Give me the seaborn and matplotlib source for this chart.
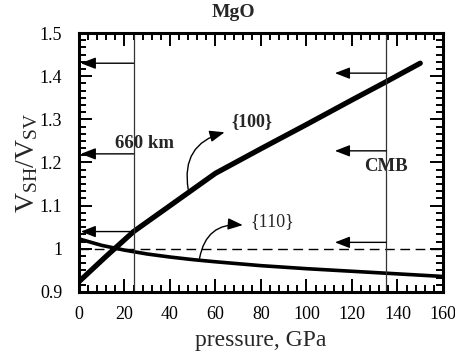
import matplotlib
matplotlib.use("Agg")
import matplotlib.pyplot as plt
import seaborn as sns
from matplotlib.ticker import MultipleLocator, AutoMinorLocator, FormatStrFormatter

p100 = [0, 12, 24, 60, 80, 100, 120, 135, 150]
v100 = [0.924, 0.983, 1.040, 1.175, 1.232, 1.288, 1.345, 1.387, 1.43]
p110 = [0, 10, 20, 30, 40, 50, 60, 80, 100, 120, 140, 160]
v110 = [1.023, 1.008, 0.997, 0.988, 0.981, 0.975, 0.970, 0.961, 0.954, 0.948, 0.942, 0.936]

# depth markers and the arrows pointing off them
p660, pcmb = 24, 135
left_arrow_y = [1.43, 1.22, 1.04]
right_arrow_y = [1.407, 1.227, 1.015]
right_arrow_tip = 112.5

sns.set_style("ticks")
plt.rcParams["font.family"] = ["Liberation Serif", "DejaVu Serif"]
plt.rcParams["mathtext.fontset"] = "custom"
plt.rcParams["mathtext.rm"] = "Liberation Serif"
plt.rcParams.update({
    "xtick.direction": "in", "ytick.direction": "in",
    "xtick.top": True, "ytick.right": True,
    "xtick.major.size": 9.4, "ytick.major.size": 9.4,
    "xtick.minor.size": 5.2, "ytick.minor.size": 5.2,
    "xtick.major.width": 1.4, "ytick.major.width": 1.4,
    "xtick.minor.width": 1.4, "ytick.minor.width": 1.4,
    "xtick.minor.visible": True, "ytick.minor.visible": True,
    "xtick.color": "black", "ytick.color": "black",
})

fig = plt.figure(figsize=(4.55, 3.56), dpi=100)
ax = fig.add_axes([0.1736, 0.1798, 0.80, 0.7275])

sns.lineplot(x=p100, y=v100, ax=ax, color="black", lw=3.8, solid_capstyle="round")
sns.lineplot(x=p110, y=v110, ax=ax, color="black", lw=2.6)
ax.axhline(1.0, color="black", lw=1.0, linestyle=(0, (7, 4)))
ax.axvline(p660, color="#333333", lw=0.9)
ax.axvline(pcmb, color="#333333", lw=0.9)

arrow = dict(arrowstyle="-|>,head_length=0.9,head_width=0.35", color="black", lw=1.0,
             shrinkA=0, shrinkB=0)
for y in left_arrow_y:
    ax.annotate("", xy=(0.8, y), xytext=(p660, y), arrowprops=arrow)
for y in right_arrow_y:
    ax.annotate("", xy=(right_arrow_tip, y), xytext=(pcmb, y), arrowprops=arrow)

# labels with curved pointers
curved = dict(arrow, connectionstyle="arc3,rad=-0.45")
ax.annotate("", xy=(64, 1.27), xytext=(48, 1.138), arrowprops=curved)
ax.annotate("", xy=(72, 1.055), xytext=(53, 0.978), arrowprops=curved)
ax.text(76, 1.296, "{100}", ha="center", va="center", fontsize=13, fontweight="bold")
ax.text(85, 1.063, "{110}", ha="center", va="center", fontsize=13)
ax.text(29, 1.245, "660 km", ha="center", va="center", fontsize=13.5, fontweight="bold")
ax.text(135, 1.19, "CMB", ha="center", va="center", fontsize=13.5, fontweight="bold")

ax.set_xlim(0, 160)
ax.set_ylim(0.9, 1.5)
ax.xaxis.set_major_locator(MultipleLocator(20))
ax.xaxis.set_minor_locator(AutoMinorLocator(5))
ax.yaxis.set_major_locator(MultipleLocator(0.1))
ax.yaxis.set_minor_locator(AutoMinorLocator(6))
ax.yaxis.set_major_formatter(FormatStrFormatter("%g"))
ax.tick_params(which="both", direction="in", top=True, right=True, labelsize=13)
ax.tick_params(axis="x", which="major", pad=10)
ax.tick_params(axis="y", which="major", pad=12)
for s in ax.spines.values():
    s.set_linewidth(2.2)
    s.set_color("black")

ax.set_xlabel("pressure, GPa", fontsize=17, labelpad=5)
ax.set_ylabel(r"$\mathregular{V_{SH}/V_{SV}}$", fontsize=20, labelpad=0)
fig.text(0.512, 0.966, "MgO", ha="center", va="center", fontsize=14, fontweight="bold")

fig.savefig("out.png", dpi=100)
